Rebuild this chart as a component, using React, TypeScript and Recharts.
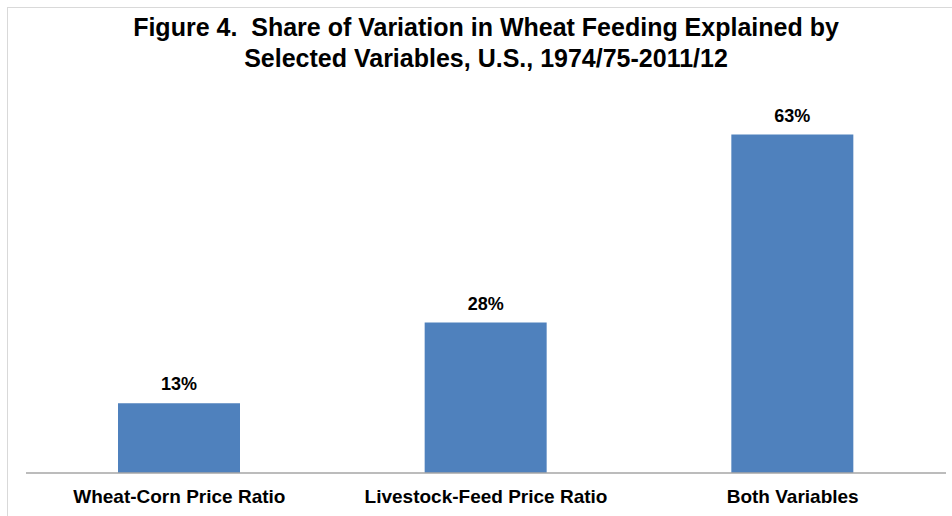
import React from 'react';
import { BarChart, Bar, XAxis, YAxis, LabelList } from 'recharts';

const categories = ['Wheat-Corn Price Ratio', 'Livestock-Feed Price Ratio', 'Both Variables'];
const shares = [13, 28, 63];
const boundaryTicks = [0, 1, 2, 3];

const data = categories.map((name, i) => ({ name, share: shares[i], pos: i + 0.5 }));

const App: React.FC = () => {
  return (
    <div style={{ position: 'fixed', left: 0, top: 0, width: 952, height: 516, background: '#fff', fontFamily: 'Arial, "Liberation Sans", sans-serif' }}>
      {/* outer chart border */}
      <div style={{ position: 'absolute', left: 7, top: 7, width: 960, height: 520, border: '1px solid #d9d9d9' }} />
      <div
        style={{
          position: 'absolute',
          left: 0,
          top: 12,
          width: 972,
          textAlign: 'center',
          fontFamily: 'Arial, "Liberation Sans", sans-serif',
          fontWeight: 'bold',
          fontSize: 25,
          lineHeight: '31px',
          color: '#000',
        }}
      >
        Figure 4.&nbsp; Share of Variation in Wheat Feeding Explained by
        <br />
        Selected Variables, U.S., 1974/75-2011/12
      </div>
      <div style={{ position: 'absolute', left: 0, top: 0 }}>
        <BarChart width={952} height={516} data={data} margin={{ top: 97, right: 6, left: 26, bottom: 0 }}>
          {/* thin axis carrying the tick marks at the category boundaries */}
          <XAxis
            xAxisId="a"
            type="number"
            dataKey="pos"
            domain={[0, 3]}
            ticks={boundaryTicks}
            height={6}
            tick={false}
            tickSize={6}
            axisLine={{ stroke: '#a6a6a6', strokeWidth: 1.5 }}
            tickLine={{ stroke: '#a6a6a6', strokeWidth: 1.5 }}
          />
          <XAxis
            xAxisId="b"
            dataKey="name"
            height={37}
            axisLine={false}
            tickLine={false}
            interval={0}
            tick={{ fill: '#000', fontSize: 19, fontWeight: 'bold', fontFamily: 'Arial, "Liberation Sans", sans-serif' }}
            tickMargin={5}
          />
          <YAxis hide domain={[0, 70]} />
          <Bar xAxisId="b" dataKey="share" fill="#4f81bd" barSize={122} isAnimationActive={false}>
            <LabelList
              dataKey="share"
              position="top"
              offset={13}
              formatter={(v: any) => `${v}%`}
              style={{ fill: '#000', fontSize: 18, fontWeight: 'bold', fontFamily: 'Arial, "Liberation Sans", sans-serif' }}
            />
          </Bar>
        </BarChart>
      </div>
    </div>
  );
};

export default App;
